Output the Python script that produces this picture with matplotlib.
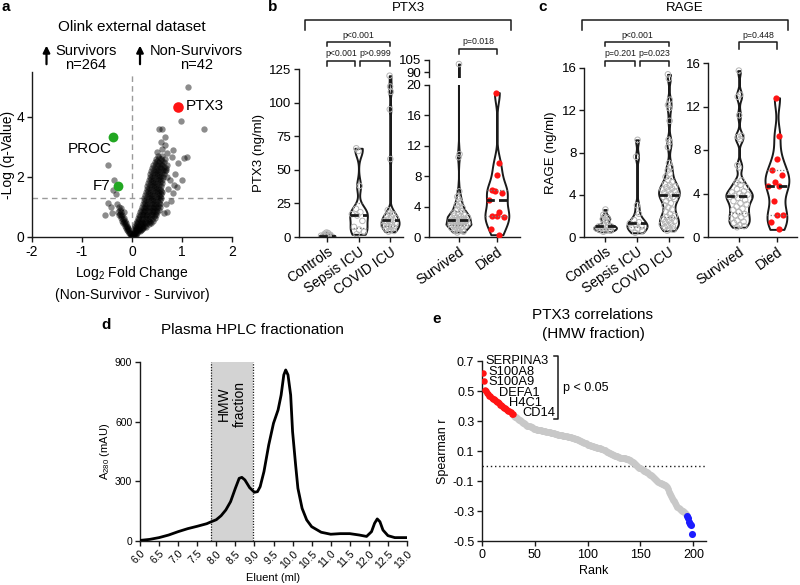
import numpy as np
import matplotlib
matplotlib.use('Agg')
import matplotlib.pyplot as plt
from matplotlib.lines import Line2D

plt.rcParams['font.family'] = ['Liberation Sans', 'DejaVu Sans']
plt.rcParams['mathtext.fontset'] = 'custom'
plt.rcParams['mathtext.rm'] = 'Liberation Sans'
plt.rcParams['axes.unicode_minus'] = False
plt.rcParams['axes.linewidth'] = 1.0

W, H = 800, 585
INK = '#1a1a1a'
RED = '#ff1414'
GREEN = '#22a722'
BLUE = '#1c1cff'
LIGHT = '#c8c8c8'

# ── panel a: volcano (log2 FC, -log q) ───────────────────────────────────────
CORE_ROWS = [
    (0.02, [0.0, 0.02, -0.01]),
    (0.05, [0.01, 0.05, -0.02]),
    (0.08, [0.01, 0.04, -0.03, 0.07]),
    (0.12, [0.03, 0.08, -0.05]),
    (0.15, [0.02, 0.06, 0.1, -0.04, -0.07]),
    (0.19, [0.05, 0.11, 0.16, -0.08]),
    (0.22, [0.03, 0.08, 0.13, 0.18, -0.06, -0.1]),
    (0.26, [0.07, 0.13, 0.2, -0.09]),
    (0.30, [0.05, 0.1, 0.16, 0.22, -0.08, -0.12]),
    (0.34, [0.08, 0.14, 0.21, 0.28, -0.11]),
    (0.38, [0.06, 0.12, 0.19, 0.26, -0.1, -0.15]),
    (0.42, [0.1, 0.17, 0.24, 0.33, -0.14]),
    (0.46, [0.08, 0.15, 0.22, 0.3, 0.38, -0.12, -0.18]),
    (0.50, [0.12, 0.2, 0.28, 0.36, -0.16]),
    (0.55, [0.1, 0.17, 0.25, 0.33, 0.42, -0.14, -0.2]),
    (0.60, [0.14, 0.22, 0.31, 0.4, -0.19]),
    (0.64, [0.12, 0.2, 0.28, 0.36, 0.45, -0.17, -0.23]),
    (0.69, [0.16, 0.25, 0.34, 0.43, -0.22]),
    (0.73, [0.14, 0.22, 0.3, 0.39, 0.48, -0.2, -0.26]),
    (0.78, [0.19, 0.28, 0.37, 0.46, -0.24]),
    (0.82, [0.16, 0.24, 0.33, 0.42, 0.5, -0.22, -0.29]),
    (0.87, [0.21, 0.3, 0.39, 0.48]),
    (0.91, [0.18, 0.26, 0.35, 0.44, 0.53, -0.25]),
    (0.96, [0.23, 0.32, 0.41, 0.5]),
    (1.00, [0.2, 0.28, 0.37, 0.46, 0.55, -0.27]),
    (1.05, [0.25, 0.34, 0.43, 0.52]),
    (1.10, [0.21, 0.3, 0.39, 0.48, 0.56, -0.3]),
    (1.15, [0.26, 0.35, 0.44, 0.53]),
    (1.20, [0.23, 0.32, 0.41, 0.5]),
    (1.25, [0.28, 0.37, 0.46, 0.55]),
    (1.30, [0.24, 0.33, 0.42, 0.51, 0.58]),
    (1.35, [0.29, 0.38, 0.47, 0.56]),
    (1.40, [0.26, 0.35, 0.44, 0.53]),
    (1.45, [0.31, 0.4, 0.49, 0.57]),
    (1.50, [0.27, 0.36, 0.45, 0.54, 0.6]),
    (1.55, [0.32, 0.41, 0.5, 0.58]),
    (1.60, [0.29, 0.38, 0.47, 0.56]),
    (1.65, [0.34, 0.43, 0.52]),
    (1.70, [0.3, 0.39, 0.48, 0.57]),
    (1.75, [0.35, 0.44, 0.53]),
    (1.80, [0.32, 0.41, 0.5, 0.59]),
    (1.85, [0.37, 0.46, 0.55]),
    (1.90, [0.33, 0.42, 0.51, 0.6]),
    (1.95, [0.38, 0.47, 0.56]),
    (2.00, [0.35, 0.44, 0.53, 0.62, 0.7]),
    (2.05, [0.4, 0.49, 0.58]),
    (2.10, [0.36, 0.45, 0.54, 0.63]),
    (2.15, [0.41, 0.5, 0.6]),
    (2.20, [0.38, 0.47, 0.56, 0.65]),
    (2.25, [0.43, 0.52, 0.61]),
    (2.30, [0.4, 0.49, 0.58, 0.67]),
    (2.35, [0.46, 0.55, 0.64]),
    (2.40, [0.42, 0.51, 0.6, 0.7]),
    (2.45, [0.48, 0.57]),
    (2.50, [0.45, 0.54, 0.63]),
    (2.55, [0.5, 0.6]),
    (2.60, [0.48, 0.57, 0.66]),
    (2.70, [0.52, 0.6]),
]
SCATTER_FC = [1.11, 0.97, 1.43, 0.54, 0.59, 0.65, 0.58, 0.65, 0.82, 1.03, 0.91, 0.79, 0.99,
              0.89, 0.81, 0.67, 0.54, 0.63, 0.75, 0.85, 0.7, 0.72, 0.78, 0.68, 0.6, 0.5,
              1.09, 0.83, 0.69, -0.49, -0.49, -0.55, -0.42, -0.4, -0.36, -0.39, -0.32,
              -0.23, -0.17]
SCATTER_Q = [5.01, 3.88, 3.59, 3.59, 3.59, 3.34, 3.18, 3.07, 2.9, 2.62, 2.46, 2.68, 1.9,
             1.68, 1.46, 2.23, 2.62, 0.79, 1.9, 2.1, 2.8, 1.6, 1.2, 1.1, 2.95, 2.85,
             2.67, 1.73, 0.85, 2.4, 1.12, 0.73, 1.0, 0.79, 1.9, 1.57, 1.42,
             0.96, 0.84]
HIGHLIGHT = ['PTX3', 'PROC', 'F7']
HIGHLIGHT_FC = [0.91, -0.39, -0.29]
HIGHLIGHT_Q = [4.32, 3.34, 1.71]
Q_CUTOFF = 1.3

# ── panels b, c: violin data (ng/ml) ─────────────────────────────────────────
GROUPS_LEFT = ['Controls', 'Sepsis ICU', 'COVID ICU']
GROUPS_RIGHT = ['Survived', 'Died']

PTX3_CONTROLS = [0.2, 0.3, 0.5, 0.6, 0.7, 0.8, 1.0, 1.1, 1.3, 1.6, 2.0, 2.4, 2.9, 3.3]
PTX3_SEPSIS = [2.0, 4.0, 5.5, 7.5, 12.0, 16.0, 17.0, 18.5, 21.0, 38.0, 64.0, 66.0]
PTX3_COVID = [4.0, 4.5, 5.0, 6.0, 7.0, 8.0, 8.5, 9.0, 10.0, 10.5, 11.0, 12.0, 12.5,
              13.0, 14.0, 15.0, 16.0, 17.0, 18.0, 20.0, 58.0, 95.0, 108.0, 112.0, 120.0]
PTX3_SURVIVED = [0.6, 0.7, 0.8, 0.9, 1.0, 1.1, 1.2, 1.3, 1.4, 1.5, 1.5, 1.6, 1.7, 1.8,
                 1.8, 1.9, 1.9, 2.0, 2.0, 2.1, 2.1, 2.2, 2.2, 2.3, 2.3, 2.4, 2.5, 2.6,
                 2.7, 2.8, 2.9, 3.0, 3.2, 3.4, 3.6, 3.8, 4.0, 4.2, 4.5, 5.0, 5.3, 6.0,
                 10.5, 10.9, 100.0]
PTX3_DIED = [19.0, 9.7, 8.1, 6.2, 5.8, 6.1, 4.9, 3.3, 2.7, 2.6, 2.7, 1.1, 0.3]

RAGE_CONTROLS = [0.5, 0.6, 0.6, 0.7, 0.7, 0.8, 0.8, 0.9, 0.9, 1.0, 1.0, 1.0, 1.1, 1.2,
                 1.4, 1.6, 1.7, 1.8, 1.9, 2.1, 2.6]
RAGE_SEPSIS = [0.4, 0.6, 0.8, 0.9, 1.0, 1.2, 1.3, 1.4, 1.6, 2.2, 3.0, 7.6, 9.2]
RAGE_COVID = [0.6, 0.7, 0.8, 0.9, 1.0, 1.1, 1.2, 1.3, 1.4, 1.5, 1.6, 1.7, 1.8, 1.9,
              2.0, 2.2, 2.4, 2.6, 2.8, 3.0, 3.2, 3.4, 3.6, 3.7, 3.8, 3.8, 3.9, 4.0,
              4.1, 4.2, 4.3, 4.4, 4.5, 4.6, 4.7, 4.8, 4.9, 5.0, 5.2, 5.4, 5.7, 6.0,
              6.3, 6.6, 7.0, 8.5, 9.0, 9.2, 11.0, 12.2, 12.5, 13.0, 15.0, 15.4]
RAGE_SURVIVED = [0.9, 1.0, 1.1, 1.3, 1.4, 1.5, 1.7, 1.8, 2.0, 2.1, 2.3, 2.5, 2.6, 2.8,
                 3.0, 3.1, 3.3, 3.4, 3.6, 3.7, 3.8, 3.8, 3.9, 4.0, 4.1, 4.2, 4.4, 4.6,
                 4.8, 5.0, 5.2, 6.4, 6.6, 9.0, 9.2, 9.3, 11.2, 12.9, 13.1, 15.3]
RAGE_DIED = [12.8, 9.3, 7.2, 6.2, 5.7, 5.1, 4.7, 4.7, 3.3, 2.0, 2.0, 1.4, 0.7]

PTX3_P = ['p<0.001', 'p>0.999', 'p<0.001', 'p=0.018']
RAGE_P = ['p=0.201', 'p=0.023', 'p<0.001', 'p=0.448']

# ── panel d: HPLC trace ──────────────────────────────────────────────────────
HPLC_ML = [6.0, 6.25, 6.5, 6.75, 7.0, 7.25, 7.5, 7.75, 7.87, 8.0, 8.125, 8.25, 8.375,
           8.5, 8.6, 8.67, 8.75, 8.875, 9.0, 9.08, 9.15, 9.25, 9.375, 9.5, 9.62, 9.7,
           9.77, 9.82, 9.88, 9.95, 10.0, 10.08, 10.14, 10.25, 10.37, 10.5, 10.75,
           11.0, 11.25, 11.5, 11.75, 11.94, 12.07, 12.15, 12.22, 12.29, 12.37, 12.5,
           12.68, 13.0]
HPLC_MAU = [3, 8, 17, 30, 47, 62, 74, 87, 97, 107, 127, 156, 198,
            265, 315, 320, 307, 268, 245, 248, 273, 349, 483, 592, 659, 734,
            835, 860, 835, 734, 550, 382, 265, 164, 106, 72, 44,
            34, 37, 37, 30, 23, 47, 89, 111, 97, 55, 27,
            17, 17]
HMW_START, HMW_END = 7.85, 8.96

# ── panel e: Spearman r by rank ──────────────────────────────────────────────
SPEARMAN_R = [
    0.62, 0.565, 0.51, 0.50, 0.49, 0.48, 0.47, 0.465, 0.455, 0.45,
    0.445, 0.44, 0.435, 0.43, 0.425, 0.42, 0.41, 0.405, 0.40, 0.395,
    0.39, 0.385, 0.38, 0.375, 0.37, 0.365, 0.36, 0.35, 0.345,
    0.335, 0.33, 0.325, 0.32, 0.315, 0.31, 0.305, 0.30, 0.295, 0.29,
    0.285, 0.28, 0.275, 0.27, 0.268, 0.265, 0.262, 0.258, 0.255, 0.25,
    0.247, 0.245, 0.243, 0.241, 0.24, 0.238, 0.237, 0.235, 0.234, 0.232,
    0.231, 0.229, 0.228, 0.226, 0.224, 0.222, 0.22, 0.218, 0.217, 0.215,
    0.213, 0.212, 0.21, 0.209, 0.207, 0.206, 0.204, 0.203, 0.201, 0.2,
    0.198, 0.196, 0.195, 0.193, 0.191, 0.189, 0.187, 0.185, 0.183, 0.18,
    0.177, 0.174, 0.171, 0.168, 0.165, 0.162, 0.159, 0.155, 0.151, 0.147,
    0.143, 0.14, 0.137, 0.135, 0.133, 0.131, 0.129, 0.127, 0.125, 0.123,
    0.121, 0.119, 0.117, 0.115, 0.112, 0.108, 0.104, 0.1, 0.096, 0.092,
    0.088, 0.085, 0.082, 0.079, 0.076, 0.073, 0.07, 0.067, 0.064, 0.06,
    0.058, 0.056, 0.054, 0.053, 0.052, 0.051, 0.05, 0.048, 0.045, 0.042,
    0.038, 0.034, 0.029, 0.024, 0.018, 0.012, 0.006, 0.0, -0.005, -0.01,
    -0.015, -0.02, -0.025, -0.03, -0.034, -0.038, -0.042, -0.047, -0.052, -0.057,
    -0.062, -0.068, -0.074, -0.08, -0.086, -0.092, -0.098, -0.104, -0.11, -0.115,
    -0.118, -0.121, -0.124, -0.127, -0.13, -0.14, -0.155, -0.17, -0.185, -0.2,
    -0.212, -0.224, -0.236, -0.248, -0.26, -0.27, -0.278, -0.285, -0.292, -0.298,
    -0.303, -0.307, -0.31, -0.318,
    -0.335, -0.345, -0.37, -0.385, -0.395, -0.45,
]
N_SIG_POS = 29
N_SIG_NEG = 6
TOP_GENES = ['SERPINA3', 'S100A8', 'S100A9', 'DEFA1', 'H4C1', 'CD14']


# ── helpers ──────────────────────────────────────────────────────────────────
fig = plt.figure(figsize=(8, 5.85), dpi=100)
fig.patch.set_facecolor('white')


def px_axes(left, top, right, bottom):
    return fig.add_axes([left / W, 1 - bottom / H, (right - left) / W, (bottom - top) / H])


def style(ax, size=9.5):
    for s in ['top', 'right']:
        ax.spines[s].set_visible(False)
    for s in ['left', 'bottom']:
        ax.spines[s].set_color(INK)
    ax.tick_params(length=3.5, width=1, color=INK, labelsize=size, pad=2)


def yfrac(ax, ypx):
    p = ax.get_position()
    return (1 - ypx / H - p.y0) / p.height


def fig_text(xpx, ypx, s, **kw):
    fig.text(xpx / W, 1 - ypx / H, s, **kw)


def fig_line(xs, ys, **kw):
    fig.add_artist(Line2D([x / W for x in xs], [1 - y / H for y in ys],
                          transform=fig.transFigure, **kw))


def bracket(ax, x0, x1, top_px, leg_px, label, fs=6.3):
    tr = ax.get_xaxis_transform()
    yt, yl = yfrac(ax, top_px), yfrac(ax, leg_px)
    ax.plot([x0, x0, x1, x1], [yl, yt, yt, yl], color=INK, lw=1.1,
            transform=tr, clip_on=False)
    ax.text((x0 + x1) / 2, yfrac(ax, top_px - 2.5), label, transform=tr,
            ha='center', va='bottom', fontsize=fs, color=INK)


def violin(ax, data, pos, width, bw, filled=False):
    data = np.asarray(data, dtype=float)
    parts = ax.violinplot([data], positions=[pos], widths=width, showextrema=False,
                          bw_method=lambda k, b=bw: b / np.std(k.dataset, ddof=1))
    body = parts['bodies'][0]
    body.set_facecolor('white')
    body.set_alpha(1)
    body.set_edgecolor(INK)
    body.set_linewidth(1.4)
    body.set_zorder(1)
    v = body.get_paths()[0].vertices
    r = v[v[:, 0] >= pos]
    o = np.argsort(r[:, 1])

    def half(y):
        return np.interp(y, r[o, 1], r[o, 0] - pos)

    n = len(data)
    u = ((np.arange(n) * 0.618034 + 0.31) % 1.0) * 2 - 1
    xs = pos + u * half(data) * 0.8
    if filled:
        ax.scatter(xs, data, s=20, color=RED, lw=0, zorder=3)
    else:
        ax.scatter(xs, data, s=16, facecolor='none', edgecolor='#b4b4b4', lw=0.7, zorder=2)
    q1, med, q3 = np.percentile(data, [25, 50, 75])
    for y in (q1, q3):
        hw = half(y)
        ax.plot([pos - hw, pos + hw], [y, y], color='#7a7a7a', lw=0.9,
                ls=(0, (1, 1.5)), zorder=4)
    hw = half(med)
    ax.plot([pos - hw, pos + hw], [med, med], color=INK, lw=2.0,
            ls=(0, (3, 1.5)), zorder=4)


# ═══════════════════════════════════════════════════════════════════════════
# a — volcano
# ═══════════════════════════════════════════════════════════════════════════
core_fc = [x for y, xs in CORE_ROWS for x in xs]
core_q = [y for y, xs in CORE_ROWS for x in xs]

ax = px_axes(32, 72, 232, 237)
style(ax, 10)
ax.scatter(core_fc + SCATTER_FC, core_q + SCATTER_Q, s=21, color='black', alpha=0.45,
           lw=0, zorder=2)
ax.scatter(HIGHLIGHT_FC[:1], HIGHLIGHT_Q[:1], s=58, color=RED, lw=0, zorder=3)
ax.scatter(HIGHLIGHT_FC[1:], HIGHLIGHT_Q[1:], s=50, color=GREEN, lw=0, zorder=3)
ax.axvline(0, color='#9a9a9a', lw=1, ls=(0, (4, 3)), zorder=1)
ax.axhline(Q_CUTOFF, color='#9a9a9a', lw=1, ls=(0, (4, 3)), zorder=1)
ax.set_xlim(-2, 2)
ax.set_ylim(0, 5.5)
ax.set_xticks([-2, -1, 0, 1, 2])
ax.set_yticks([0, 2, 4])
ax.set_ylabel('-Log (q-Value)', fontsize=10, labelpad=1)
ax.set_xlabel('Log$_{\\rm 2}$ Fold Change\n(Non-Survivor - Survivor)', fontsize=10,
              linespacing=1.5, labelpad=4)
ax.text(HIGHLIGHT_FC[0] + 0.17, HIGHLIGHT_Q[0] + 0.03, HIGHLIGHT[0], fontsize=11,
        va='center', ha='left')
ax.text(HIGHLIGHT_FC[1] - 0.02, HIGHLIGHT_Q[1] - 0.42, HIGHLIGHT[1], fontsize=11,
        va='center', ha='right')
ax.text(HIGHLIGHT_FC[2] - 0.15, HIGHLIGHT_Q[2], HIGHLIGHT[2], fontsize=11,
        va='center', ha='right')
ax.text(0, 7.0, 'Olink external dataset', ha='center', va='center', fontsize=11,
        clip_on=False)
for xa in (-1.71, 0.16):
    ax.annotate('', xy=(xa, 6.38), xytext=(xa, 5.76), annotation_clip=False,
                arrowprops=dict(arrowstyle='-|>', color='black', lw=1.6,
                                mutation_scale=10, shrinkA=0, shrinkB=0))
ax.text(-1.53, 6.2, 'Survivors', fontsize=10.5, va='center', ha='left', clip_on=False)
ax.text(-0.92, 5.72, 'n=264', fontsize=10.5, va='center', ha='center', clip_on=False)
ax.text(0.35, 6.2, 'Non-Survivors', fontsize=10.5, va='center', ha='left', clip_on=False)
ax.text(1.29, 5.72, 'n=42', fontsize=10.5, va='center', ha='center', clip_on=False)

# ═══════════════════════════════════════════════════════════════════════════
# b, c — violins
# ═══════════════════════════════════════════════════════════════════════════
def left_violins(ax, groups_data, widths, bws, ylim, yticks, ylabel):
    style(ax)
    for i, (d, w, b) in enumerate(zip(groups_data, widths, bws)):
        violin(ax, d, i, w, b)
    ax.set_ylim(*ylim)
    ax.set_yticks(yticks)
    ax.set_xticks(range(len(GROUPS_LEFT)))
    ax.set_xticklabels(GROUPS_LEFT, rotation=35, ha='right', rotation_mode='anchor',
                       fontsize=10)
    ax.set_ylabel(ylabel, fontsize=9.5, labelpad=3)


# PTX3 left
ax_b1 = px_axes(299, 69, 403, 237)
left_violins(ax_b1, [PTX3_CONTROLS, PTX3_SEPSIS, PTX3_COVID], [0.5, 0.56, 0.57],
             [0.6, 5.0, 3.5], (0, 125), [0, 25, 50, 75, 100, 125], 'PTX3 (ng/ml)')
ax_b1.set_xlim(-0.89, 2.41)
bracket(ax_b1, 0, 0.9, 61, 66, PTX3_P[0])
bracket(ax_b1, 1.05, 2.0, 61, 66, PTX3_P[1])
bracket(ax_b1, 0, 2.0, 42, 46, PTX3_P[2])

# PTX3 right, broken axis
ax_b2 = px_axes(429, 85, 520, 237)
ax_b2u = px_axes(429, 60, 520, 77)
for a in (ax_b2, ax_b2u):
    style(a)
    violin(a, PTX3_SURVIVED, 0, 0.66, 0.7)
    violin(a, PTX3_DIED, 1, 0.63, 1.3, filled=True)
    a.set_xlim(-0.79, 1.61)
ax_b2.set_ylim(0, 20)
ax_b2.set_yticks([0, 4, 8, 12, 16, 20])
ax_b2.set_xticks([0, 1])
ax_b2.set_xticklabels(GROUPS_RIGHT, rotation=35, ha='right', rotation_mode='anchor',
                      fontsize=10)
ax_b2u.set_ylim(84, 105)
ax_b2u.set_yticks([90, 105])
ax_b2u.spines['bottom'].set_visible(False)
ax_b2u.set_xticks([])
bracket(ax_b2u, 0, 1, 49, 54, PTX3_P[3])

# RAGE left
ax_c1 = px_axes(584, 68, 683, 237)
left_violins(ax_c1, [RAGE_CONTROLS, RAGE_SEPSIS, RAGE_COVID], [0.71, 0.63, 0.65],
             [0.17, 0.45, 0.5], (0, 16), [0, 4, 8, 12, 16], 'RAGE (ng/ml)')
ax_c1.set_xlim(-0.66, 2.44)
bracket(ax_c1, 0, 0.95, 61, 66, RAGE_P[0])
bracket(ax_c1, 1.1, 2.0, 61, 66, RAGE_P[1])
bracket(ax_c1, 0, 2.0, 42, 46, RAGE_P[2])

# RAGE right
ax_c2 = px_axes(708, 63, 797, 237)
style(ax_c2)
violin(ax_c2, RAGE_SURVIVED, 0, 0.7, 0.45)
violin(ax_c2, RAGE_DIED, 1, 0.63, 1.0, filled=True)
ax_c2.set_xlim(-0.82, 1.53)
ax_c2.set_ylim(0, 16)
ax_c2.set_yticks([0, 4, 8, 12, 16])
ax_c2.set_xticks([0, 1])
ax_c2.set_xticklabels(GROUPS_RIGHT, rotation=35, ha='right', rotation_mode='anchor',
                      fontsize=10)
bracket(ax_c2, 0, 1, 42, 49, RAGE_P[3])

# big brackets + titles
for x0, x1, title, xt in [(305, 511, 'PTX3', 408), (582, 788, 'RAGE', 685)]:
    fig_line([x0, x0, x1, x1], [30, 20, 20, 30], color=INK, lw=1.1)
    fig_text(xt, 8, title, ha='center', va='center', fontsize=9.5)

# ═══════════════════════════════════════════════════════════════════════════
# d — HPLC
# ═══════════════════════════════════════════════════════════════════════════
ax_d = px_axes(140, 362, 407, 541)
style(ax_d, 7.5)
ax_d.axvspan(HMW_START, HMW_END, color='#d3d3d3', lw=0, zorder=0)
for xv in (HMW_START, HMW_END):
    ax_d.axvline(xv, color=INK, lw=0.9, ls=(0, (1, 1.2)), zorder=1)
ax_d.plot(HPLC_ML, HPLC_MAU, color='black', lw=2.0, zorder=3, solid_joinstyle='round')
ax_d.set_xlim(6, 13)
ax_d.set_ylim(0, 900)
ax_d.set_yticks([0, 300, 600, 900])
xt = np.arange(6.0, 13.01, 0.5)
ax_d.set_xticks(xt)
ax_d.set_xticklabels([f'{v:.1f}' for v in xt], rotation=45, ha='right',
                     rotation_mode='anchor', fontsize=7.5)
ax_d.set_xlabel('Eluent (ml)', fontsize=8, labelpad=2)
ax_d.set_ylabel('A$_{\\rm 280}$ (mAU)', fontsize=8, labelpad=2)
ax_d.text((HMW_START + HMW_END) / 2, 690, 'HMW\nfraction', rotation=90, ha='center',
          va='center', fontsize=10, linespacing=1.1)
fig_text(252, 330, 'Plasma HPLC fractionation', ha='center', va='center', fontsize=11)

# ═══════════════════════════════════════════════════════════════════════════
# e — PTX3 correlations
# ═══════════════════════════════════════════════════════════════════════════
r = np.asarray(SPEARMAN_R)
rank = np.arange(1, len(r) + 1)
n = len(r)

ax_e = px_axes(482, 361, 706, 541)
style(ax_e, 9)
mid = slice(N_SIG_POS, n - N_SIG_NEG)
ax_e.scatter(rank[mid], r[mid], s=24, color=LIGHT, lw=0, zorder=2)
ax_e.scatter(rank[:N_SIG_POS], r[:N_SIG_POS], s=22, color=RED, lw=0, zorder=3)
ax_e.scatter(rank[n - N_SIG_NEG:], r[n - N_SIG_NEG:], s=26, color=BLUE, lw=0, zorder=3)
ax_e.axhline(0, color=INK, lw=1, ls=(0, (1, 2)), zorder=1)
ax_e.set_xlim(0, 212)
ax_e.set_ylim(-0.5, 0.7)
ax_e.set_yticks([-0.5, -0.3, -0.1, 0.1, 0.3, 0.5, 0.7])
ax_e.set_yticklabels(['-0.5', '-0.3', '-0.1', '0.1', '0.3', '0.5', '0.7'])
ax_e.set_xticks([0, 50, 100, 150, 200])
ax_e.set_xlabel('Rank', fontsize=9, labelpad=3)
ax_e.set_ylabel('Spearman r', fontsize=9, labelpad=3)
gene_pos = [(3.5, 0.70), (6, 0.628), (6, 0.558), (16, 0.488), (26, 0.418), (38, 0.35)]
for g, (gx, gy) in zip(TOP_GENES, gene_pos):
    ax_e.text(gx, gy, g, fontsize=9.3, va='center', ha='left')
ax_e.plot([68, 72, 72, 68], [0.735, 0.735, 0.315, 0.315], color=INK, lw=1.1, clip_on=False)
ax_e.text(77, 0.52, 'p < 0.05', fontsize=9, va='center', ha='left')
fig_text(593, 315, 'PTX3 correlations', ha='center', va='center', fontsize=11)
fig_text(593, 334, '(HMW fraction)', ha='center', va='center', fontsize=11)

# panel letters
for lab, x, y in [('a', 6, 7), ('b', 273, 7), ('c', 543, 7), ('d', 106, 325), ('e', 437, 319)]:
    fig_text(x, y, lab, fontsize=11, fontweight='bold', va='center', ha='center')

fig.savefig('out.png', dpi=100, facecolor='white')
